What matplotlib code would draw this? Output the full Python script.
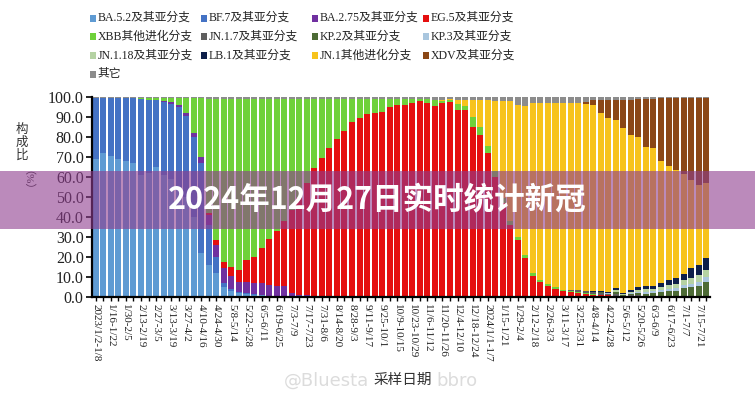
import numpy as np
import matplotlib
matplotlib.use("Agg")
import matplotlib.pyplot as plt
from matplotlib.patches import Rectangle

plt.rcParams['font.family'] = ['Liberation Serif', 'Noto Sans CJK SC', 'DejaVu Sans']

# 图例（按堆叠顺序，自下而上）
names = ["BA.5.2及其亚分支", "BF.7及其亚分支", "BA.2.75及其亚分支", "EG.5及其亚分支",
         "XBB其他进化分支", "JN.1.7及其亚分支", "KP.2及其亚分支", "KP.3及其亚分支",
         "JN.1.18及其亚分支", "LB.1及其亚分支", "JN.1其他进化分支", "XDV及其亚分支", "其它"]
colors = ["#5f9bd3", "#4472c4", "#7030a0", "#e50f0f", "#6fd13a", "#5f5f5f", "#4d6b35",
          "#a9c6de", "#b5d2a3", "#0e1f4a", "#f7c31c", "#8b4716", "#8c8c8c"]

# 每周构成比（%），2023/1/2 起共 82 周
BA52 = [69, 72, 70.5, 69, 68, 67, 61, 62, 65, 61, 59, 55, 50, 40, 22, 16, 12, 5, 3, 2,
        1.5, 1, 0.8, 0.5, 0.4, 0.3, 0.2, 0.2, 0.1, 0.1] + [0] * 52
BF7 = [30.7, 27.7, 29.2, 30.6, 31.6, 32.5, 38, 36.5, 33.5, 36.7, 37.5, 40, 40.5, 40, 45,
       20, 8, 2, 1, 0.7, 0.5, 0.3, 0.2, 0.2, 0.1, 0.1] + [0] * 56
BA275 = [0] * 9 + [0.3, 0.8, 1, 1.5, 2, 3, 5, 6, 7.5, 6.5, 5, 5.5, 5.5, 6, 5.5, 5, 5,
                   1.8, 1, 0.8, 0.6, 0.4, 0.3, 0.2] + [0] * 49
EG5 = [0] * 15 + [1, 2.5, 3.2, 4.7, 5.8, 11, 13.4, 17.5, 22.8, 27.5, 32.6, 41.5, 48.3,
                  56.1, 63.8, 69.1, 74.2, 78.8, 83, 87.7, 89.5, 91.5, 92, 92.7, 95.2, 96,
                  96, 96.8, 98, 96.8, 95.7, 96.8, 97.3, 93.5, 93.5, 85, 81, 72, 60, 47, 36,
                  28.5, 19.7, 10.7, 7.7, 5.5, 4, 3, 2.5, 2, 1.5, 1.2, 1, 0.8, 0.5, 0.4,
                  0.3, 0.3, 0.2, 0.2, 0.1, 0.1] + [0] * 5
XBB = [0] * 6 + [0.5, 1, 1, 1.5, 2.2, 3.5, 7.5, 17.5, 29.5, 57, 70.5, 81.3, 83.8, 85.5,
                 80.5, 78.8, 74.5, 70, 66, 61, 55.5, 49.5, 42, 34.5, 29.5, 24.5, 20, 16,
                 11.3, 9.5, 7.5, 7, 6.3, 3.8, 3, 3, 2.2, 1, 2, 2.8, 1.4, 1, 3, 2, 5, 4,
                 3.5, 3, 2.5, 2, 1.5, 1.5, 1.5, 1, 1, 0.8, 0.7, 0.5, 0.5, 0.3, 0.3,
                 0.2] + [0] * 14
JN17 = [0] * 63 + [0.5, 1, 1, 0.8, 0.8, 0.5, 1, 0.3, 0.5, 0.5, 0.3, 0.3, 0.2, 0.2, 0.2,
                   0.1, 0.1, 0.1, 0.1]
KP2 = [0] * 65 + [0.2, 0.3, 0.3, 0.3, 0.8, 0.3, 0.8, 1, 1.2, 1.5, 2, 2.5, 3, 4.5, 5, 5.5, 7.5]
KP3 = [0] * 67 + [0.1, 0.2, 0.4, 0.2, 0.3, 0.5, 0.8, 0.8, 1, 1, 1.1, 1.2, 1.5, 2, 2.5]
JN118 = [0] * 67 + [0.2, 0.3, 0.8, 0.4, 0.6, 1.2, 1.3, 1.1, 1.5, 2, 2.4, 2.7, 3, 3.4, 3.5]
LB1 = [0] * 66 + [0.2, 0.3, 0.3, 0.8, 0.4, 0.8, 1.6, 1.7, 1.6, 2, 2.7, 3, 2.8, 5.1, 5, 5.7]
JN1 = [0] * 46 + [0.3, 0.5, 2, 3, 8.5, 13.5, 23, 35, 48.5, 60, 66, 74.3, 84.8, 88.3, 90.5,
                  92.2, 93.3, 93.5, 93.5, 93.5, 93.2, 89.1, 86.9, 84.2, 82.3, 77.7, 75.1,
                  69.7, 68.8, 61.2, 57, 53.8, 50.2, 43.8, 40, 37.7]
XDV = [0] * 65 + [1, 2.5, 6.5, 9.2, 10, 14.2, 17.5, 18.8, 23.8, 24.7, 31.5, 34, 36, 38,
                  41, 43.5, 42.5]
OTH = [0.3, 0.3, 0.3, 0.4, 0.4, 0.5] + [0.5] * 9 + [1] * 29 + \
      [1.2, 1.5, 1.5, 1.2, 1.5, 1.5, 1.5, 1.5, 1.5, 2, 2, 2, 4, 4.5, 3, 3, 3, 3, 3, 3, 3,
       2.5, 1.5, 1.5, 1.5, 1.5, 1.5, 1.5, 1, 1, 1] + [0.5] * 7

series = [BA52, BF7, BA275, EG5, XBB, JN17, KP2, KP3, JN118, LB1, JN1, XDV, OTH]

# 横轴标签（隔周标注）
week_labels = ["2023/1/2-1/8", "1/16-1/22", "1/30-2/5", "2/13-2/19", "2/27-3/5",
               "3/13-3/19", "3/27-4/2", "4/10-4/16", "4/24-4/30", "5/8-5/14",
               "5/22-5/28", "6/5-6/11", "6/19-6/25", "7/3-7/9", "7/17-7/23",
               "7/31-8/6", "8/14-8/20", "8/28-9/3", "9/11-9/17", "9/25-10/1",
               "10/9-10/15", "10/23-10/29", "11/6-11/12", "11/20-11/26", "12/4-12/10",
               "12/18-12/24", "2024/1/1-1/7", "1/15-1/21", "1/29-2/4", "2/12-2/18",
               "2/26-3/3", "3/11-3/17", "3/25-3/31", "4/8-4/14", "4/22-4/28",
               "5/6-5/12", "5/20-5/26", "6/3-6/9", "6/17-6/23", "7/1-7/7", "7/15-7/21"]

n = len(BA52)
x = np.arange(n)

fig = plt.figure(figsize=(7.55, 4.0), dpi=100)
ax = fig.add_axes([92 / 755, 103 / 400, 618 / 755, 200 / 400])

bottom = np.zeros(n)
for vals, c in zip(series, colors):
    vals = np.array(vals, dtype=float)
    ax.bar(x, vals, width=0.8, bottom=bottom, color=c, linewidth=0)
    bottom += vals

ax.set_xlim(-0.5, n - 0.5)
ax.set_ylim(0, 100)
yt = np.arange(0, 101, 10)
ax.set_yticks(yt)
ax.set_yticklabels(["%.1f" % v for v in yt], fontsize=11.5, color="#222222")
ax.set_xticks(x[::2])
ax.set_xticklabels(week_labels, rotation=-90, fontsize=8, color="#222222")
ax.set_xticks(x, minor=True)
ax.spines['top'].set_visible(False)
ax.spines['right'].set_visible(False)
ax.spines['left'].set_linewidth(1.6)
ax.spines['bottom'].set_linewidth(1.6)
ax.tick_params(axis='y', direction='out', length=4, width=1.2, pad=2)
ax.tick_params(axis='x', which='both', direction='out', length=3, width=1, pad=2)

# 纵轴标题（竖排）
fig.text(22 / 755, 1 - 143 / 400, "构\n成\n比", ha='center', va='center', fontsize=9,
         linespacing=1.05, color="#333333")
fig.text(22 / 755, 1 - 186 / 400, "（%）", ha='center', va='center', fontsize=8,
         rotation=-90, color="#333333")

# 水印（被横轴标题遮住中间部分）
fig.text(369 / 755, 1 - 381 / 400, "@Bluesta", ha='right', va='center',
         fontsize=13, color="#dcdcdc", family=['DejaVu Sans'])
fig.text(436 / 755, 1 - 381 / 400, "bbro", ha='left', va='center',
         fontsize=13, color="#dcdcdc", family=['DejaVu Sans'])
fig.text(403 / 755, 1 - 380 / 400, "采样日期", ha='center', va='center', fontsize=10.5,
         color="#333333")

# 图例（4 列，按行排列）
for k, (nm, c) in enumerate(zip(names, colors)):
    row, col = k // 4, k % 4
    px = 90 + col * 111
    py = 18 + row * 18.7
    fig.add_artist(Rectangle((px / 755, 1 - (py + 3.5) / 400), 6 / 755, 7 / 400,
                             transform=fig.transFigure, color=c, linewidth=0))
    fig.text((px + 7.5) / 755, 1 - py / 400, nm, ha='left', va='center', fontsize=8.5,
             color="#222222")

# 标题横幅
fig.add_artist(Rectangle((0, 1 - 229 / 400), 1, 58 / 400, transform=fig.transFigure,
                         color="#8e3c8e", alpha=0.6, linewidth=0, zorder=5))
fig.text(0.5, 0.5, "2024年12月27日实时统计新冠", ha='center', va='center', fontsize=22,
         fontweight='bold', color='white', family=['Noto Sans CJK SC'], zorder=6)

fig.savefig("out.png", dpi=100)
